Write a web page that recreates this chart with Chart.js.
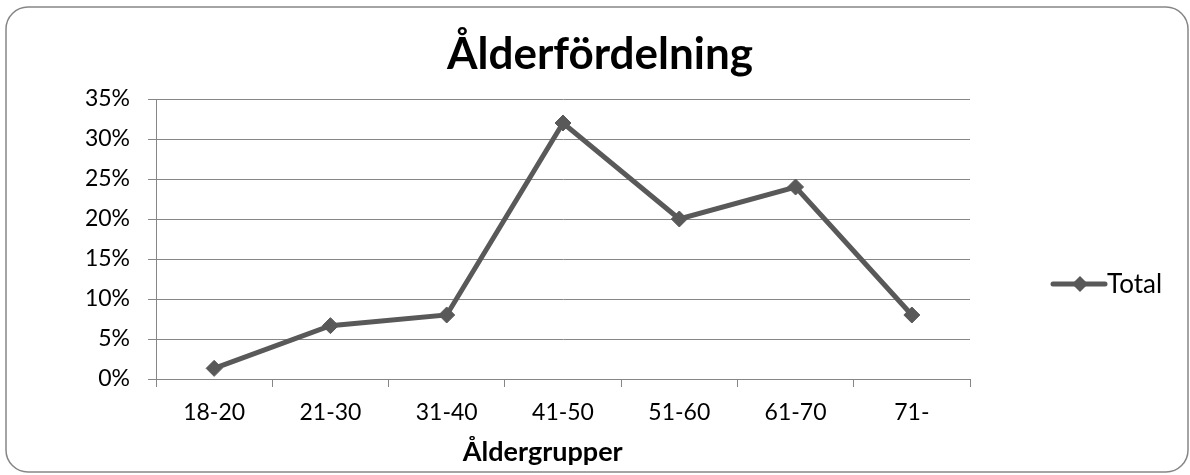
<!DOCTYPE html>
<html lang="sv">
<head>
<meta charset="utf-8">
<title>Ålderfördelning</title>
<script src="https://cdn.jsdelivr.net/npm/chart.js@4"></script>
<style>
  html, body { margin: 0; padding: 0; background: #fff; }
  #wrap { width: 1190px; height: 475px; }
</style>
</head>
<body>
<div id="wrap"><canvas id="ageChart" width="1190" height="475"></canvas></div>
<script>
// Data
const ageGroups = ['18-20', '21-30', '31-40', '41-50', '51-60', '61-70', '71-'];
const totalShare = [1.33, 6.67, 8, 32, 20, 24, 8]; // percent
const yTicks = [0, 5, 10, 15, 20, 25, 30, 35];
const seriesName = 'Total';

const gridGrey = '#868686';
const lineGrey = '#595959';

Chart.defaults.font.family = 'Lato, "Noto Sans", sans-serif';
Chart.defaults.color = '#000';

// Rounded frame around the whole chart (Excel chart area border)
const framePlugin = {
    id: 'frame',
    beforeDraw(chart) {
        const ctx = chart.ctx;
        ctx.save();
        ctx.fillStyle = '#fff';
        ctx.fillRect(0, 0, chart.width, chart.height);
        ctx.strokeStyle = gridGrey;
        ctx.lineWidth = 1.5;
        ctx.beginPath();
        ctx.roundRect(6, 7, chart.width - 8, chart.height - 10, 22);
        ctx.stroke();
        ctx.restore();
    }
};

// Legend drawn to the right of the plot, like the Excel legend
const sideLegend = {
    id: 'sideLegend',
    afterDraw(chart) {
        const ds = chart.data.datasets[0];
        const ctx = chart.ctx;
        const x0 = chart.chartArea.right + 83;
        const y = 284;
        ctx.save();
        ctx.strokeStyle = ds.borderColor;
        ctx.lineWidth = ds.borderWidth;
        ctx.lineCap = 'round';
        ctx.beginPath();
        ctx.moveTo(x0, y);
        ctx.lineTo(x0 + 52, y);
        ctx.stroke();
        ctx.fillStyle = ds.pointBackgroundColor;
        const r = 8;
        const cx = x0 + 27;
        ctx.beginPath();
        ctx.moveTo(cx, y - r);
        ctx.lineTo(cx + r, y);
        ctx.lineTo(cx, y + r);
        ctx.lineTo(cx - r, y);
        ctx.closePath();
        ctx.fill();
        ctx.fillStyle = '#000';
        ctx.font = '26px ' + Chart.defaults.font.family;
        ctx.textBaseline = 'middle';
        ctx.fillText(ds.label, x0 + 54, y + 1);
        ctx.restore();
    }
};

const ctx = document.getElementById('ageChart').getContext('2d');
const ageChart = new Chart(ctx, {
    type: 'line',
    data: {
        labels: ageGroups,
        datasets: [{
            label: seriesName,
            data: totalShare,
            borderColor: lineGrey,
            backgroundColor: lineGrey,
            pointBackgroundColor: lineGrey,
            pointBorderColor: lineGrey,
            borderWidth: 5,
            pointStyle: 'rectRot',
            pointRadius: 8,
            pointBorderWidth: 1,
            tension: 0
        }]
    },
    options: {
        responsive: false,
        animation: false,
        layout: { padding: { left: 10, right: 0, top: 0, bottom: 0 } },
        plugins: {
            legend: { display: false },
            tooltip: { enabled: false },
            title: {
                display: true,
                text: 'Ålderfördelning',
                color: '#000',
                font: { size: 44, weight: 'bold' },
                padding: { top: 28, bottom: 18.2 }
            }
        },
        scales: {
            x: {
                offset: true,
                grid: {
                    drawOnChartArea: false,
                    offset: true,
                    color: gridGrey,
                    tickLength: 8
                },
                border: { color: gridGrey },
                ticks: { font: { size: 23 }, color: '#000', padding: 12 },
                title: {
                    display: true,
                    // trailing en spaces nudge the title left, as in the original
                    text: 'Åldergrupper\u2002\u2002\u2002',
                    color: '#000',
                    font: { size: 27, weight: 'bold' },
                    padding: { top: 0, bottom: 7 }
                },
                afterFit(scale) { scale.height = 96; }
            },
            y: {
                min: 0,
                max: 35,
                afterBuildTicks(scale) { scale.ticks = yTicks.map(v => ({ value: v })); },
                grid: { color: gridGrey, tickLength: 8 },
                border: { color: gridGrey },
                ticks: {
                    font: { size: 23 },
                    color: '#000',
                    padding: 18,
                    callback: v => v + '%'
                },
                afterFit(scale) { scale.width = 146; }
            },
            // empty right-hand axis that keeps room for the legend
            legendSpace: {
                position: 'right',
                display: true,
                grid: { display: false },
                border: { display: false },
                ticks: { display: false },
                afterFit(scale) { scale.width = 220; }
            }
        }
    },
    plugins: [framePlugin, sideLegend]
});
</script>
</body>
</html>
